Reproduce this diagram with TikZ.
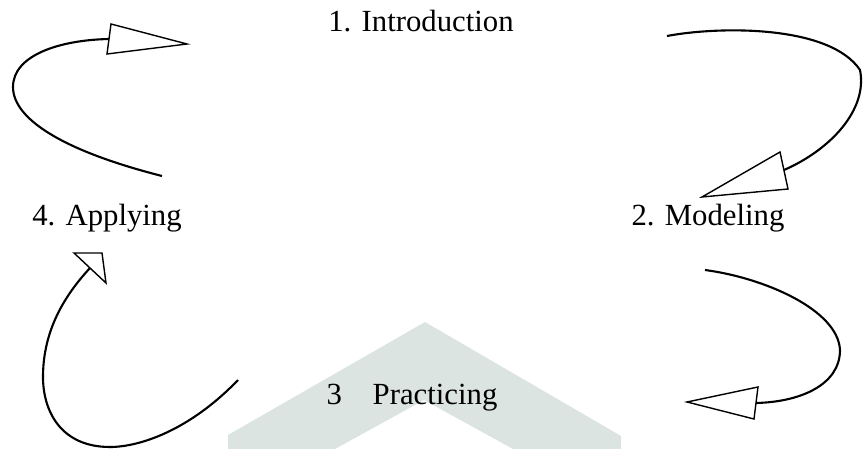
\documentclass[tikz,border=0pt]{standalone}
\usepackage{fontspec}
\setmainfont{Liberation Serif}
\definecolor{chevron}{RGB}{220,228,225}
\tikzstyle{stage} = [font=\fontsize{17.5}{21}\selectfont, inner sep=0pt, anchor=base]
\tikzstyle{loop} = [line width=1.2pt]
\tikzstyle{head} = [line width=0.8pt, fill=white]

\begin{document}
\begin{tikzpicture}[x=0.02cm,y=-0.02cm]
			\useasboundingbox (0,0) rectangle (863,449);
			% chevron behind stage 3
			\fill [chevron] (228,449) -- (228,435) -- (425,322) -- (621,436) -- (621,449) -- (513,449) -- (424,400) -- (335,449) -- cycle;
			\node [stage] (intro) at (421,32) {1. Introduction};
			\node [stage] (model) at (708,226) {2. Modeling};
			\node [stage] (pract) at (412,405) {3\quad Practicing};
			\node [stage] (apply) at (107,226) {4. Applying};
			% 4 -> 1
			\draw [loop] (162,176) .. controls (60,150) and (13,118) .. (13,87) .. controls (13,55) and (60,40) .. (109,39);
			\draw [head] (111,24) -- (187,44) -- (107,54) -- cycle;
			% 1 -> 2
			\draw [loop] (667,36) .. controls (720,26) and (830,25) .. (860,70) .. controls (868,110) and (830,150) .. (784,170);
			\draw [head] (780,152) -- (702,197) -- (788,189) -- cycle;
			% 2 -> 3
			\draw [loop] (705,270) .. controls (765,278) and (838,310) .. (840,350) .. controls (840,385) and (800,402) .. (756,403);
			\draw [head] (758,387) -- (687,402) -- (754,419) -- cycle;
			% 3 -> 4
			\draw [loop] (238,380) .. controls (190,430) and (140,447) .. (110,447) .. controls (60,447) and (43,410) .. (43,377) .. controls (43,330) and (65,295) .. (90,268);
			\draw [head] (74,253) -- (102,253) -- (106,283) -- cycle;
		\end{tikzpicture}
\end{document}
